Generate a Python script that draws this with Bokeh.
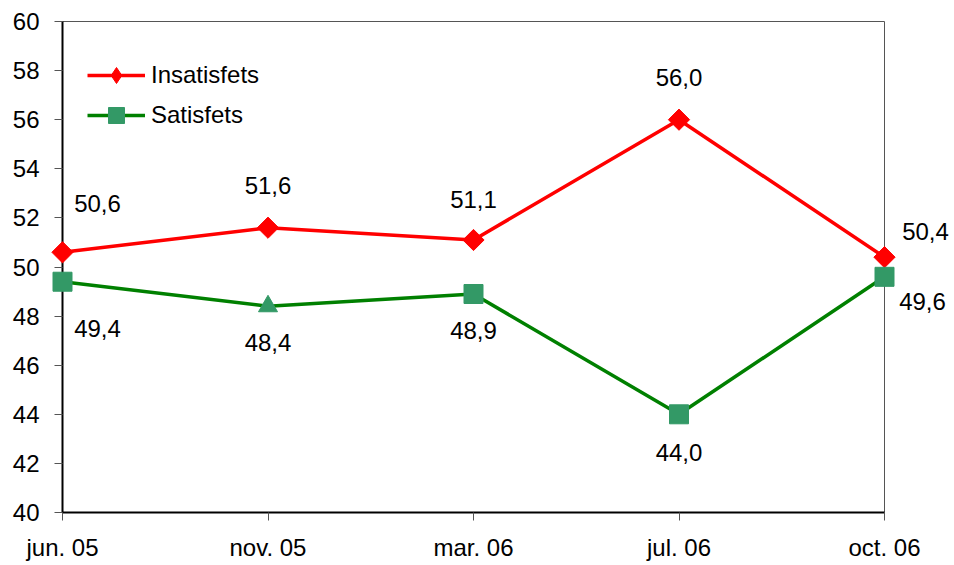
import numpy as np
from bokeh.plotting import figure
from bokeh.models import (ColumnDataSource, Legend, LegendItem,
                          FixedTicker, Range1d)
from bokeh.core.properties import value
from bokeh.embed import file_html
from bokeh.resources import INLINE

# ---- data ----
periods = ["jun. 05", "nov. 05", "mar. 06", "jul. 06", "oct. 06"]
insatisfets = [50.6, 51.6, 51.1, 56.0, 50.4]
satisfets = [49.4, 48.4, 48.9, 44.0, 49.6]
satisfets_markers = ["square", "triangle", "square", "square", "square"]
y_ticks = [40, 42, 44, 46, 48, 50, 52, 54, 56, 58, 60]

# ---- label placement (screen px offsets; +dy = up) ----
ins_dx = [35, 0, 0, 0, 41]
ins_dy = [49, 42, 40, 42, 26]
sat_dx = [35, 0, 0, 0, 38]
sat_dy = [-47, -36, -36, -38, -25]

FONT = "Liberation Sans"
FS = "24px"
RED = "#FF0000"
GREEN_LINE = "#008000"
GREEN_MARK = "#339966"

xs = list(range(len(periods)))

def fmt(v):
    return f"{v:.1f}".replace(".", ",")

src_i = ColumnDataSource(dict(x=xs, y=insatisfets, t=[fmt(v) for v in insatisfets],
                              dx=ins_dx, dy=[-d for d in ins_dy]))
src_s = ColumnDataSource(dict(x=xs, y=satisfets, t=[fmt(v) for v in satisfets],
                              dx=sat_dx, dy=[-d for d in sat_dy], m=satisfets_markers))

p = figure(width=954, height=565,
           x_range=Range1d(0, len(periods) - 1), y_range=Range1d(y_ticks[0], y_ticks[-1]),
           output_backend="svg", toolbar_location=None,
           min_border_left=62, min_border_right=70, min_border_top=21, min_border_bottom=53)

p.grid.visible = False
p.outline_line_color = "#555555"
p.outline_line_width = 1
p.background_fill_color = "white"
p.border_fill_color = "white"

for ax in (p.xaxis[0], p.yaxis[0]):
    ax.axis_line_color = "black"
    ax.axis_line_width = 2
    ax.major_tick_line_color = "#555555"
    ax.major_tick_line_width = 1
    ax.major_tick_in = 0
    ax.major_tick_out = 8
    ax.minor_tick_line_color = None
    ax.major_label_text_font = FONT
    ax.major_label_text_font_size = FS
    ax.major_label_text_color = "black"

p.xaxis.ticker = FixedTicker(ticks=xs)
p.xaxis.major_label_overrides = {i: lab for i, lab in zip(xs, periods)}
p.xaxis.major_label_standoff = 13
p.yaxis.ticker = FixedTicker(ticks=y_ticks)
p.yaxis.major_label_standoff = 15

rl = p.line("x", "y", source=src_i, line_color=RED, line_width=3.5, level="overlay")
# plain diamond underneath (used as the legend glyph), rotated square on top
rd = p.scatter("x", "y", source=src_i, marker="diamond", size=14,
               fill_color=RED, line_color=RED, level="overlay")
rs = p.scatter("x", "y", source=src_i, marker="square", angle=np.pi / 4, size=15,
               fill_color=RED, line_color=RED, level="overlay")
gl = p.line("x", "y", source=src_s, line_color=GREEN_LINE, line_width=3.5, level="overlay")
gs = p.scatter("x", "y", source=src_s, marker="m", size=19,
               fill_color=GREEN_MARK, line_color=GREEN_MARK, level="overlay")

for src in (src_i, src_s):
    p.text("x", "y", text="t", source=src, x_offset="dx", y_offset="dy",
           text_align="center", text_baseline="middle",
           text_font=value(FONT), text_font_size=value(FS),
           text_color="black", level="overlay")

legend = Legend(items=[LegendItem(label="Insatisfets", renderers=[rl, rd]),
                       LegendItem(label="Satisfets", renderers=[gl, gs], index=0)],
                location=(25, 377))
legend.padding = 0
legend.margin = 0
legend.spacing = 0
legend.glyph_width = 58
legend.glyph_height = 40
legend.label_height = 40
legend.label_standoff = 6
legend.label_text_font = FONT
legend.label_text_font_size = FS
legend.label_text_color = "black"
legend.background_fill_alpha = 0
legend.border_line_color = None
p.add_layout(legend)

open("out.html", "w").write(file_html(p, INLINE))
